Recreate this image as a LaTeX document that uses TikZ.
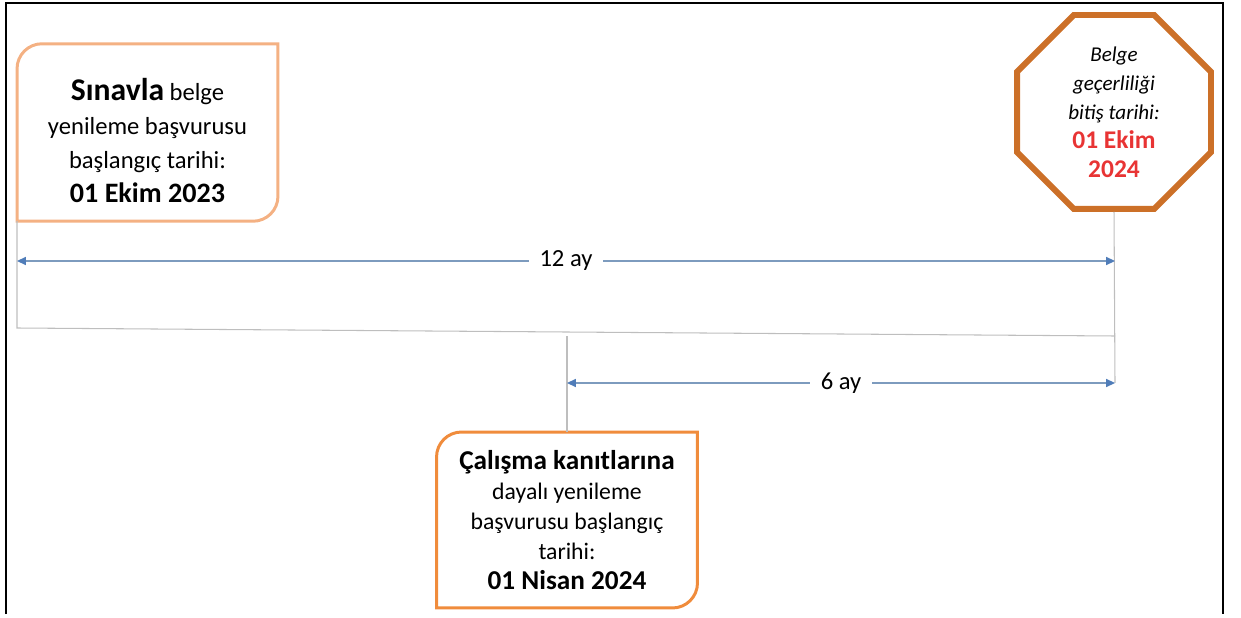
\documentclass[tikz,border=0pt]{standalone}
\usepackage{fontspec}
\setmainfont{Carlito}
\usetikzlibrary{arrows.meta,shapes.geometric,positioning}
\definecolor{mypeach}{RGB}{244,177,131}
\definecolor{myorange}{RGB}{240,140,60}
\definecolor{mybrown}{RGB}{204,112,40}
\definecolor{myblue}{RGB}{80,125,185}
\definecolor{myline}{RGB}{125,155,190}
\definecolor{myred}{RGB}{232,52,52}
\definecolor{mygray}{RGB}{190,190,190}

\begin{document}
\begin{tikzpicture}[x=0.02cm,y=-0.02cm,
    every node/.style={font=\fontsize{14}{19.5}\selectfont},
    datebox/.style={minimum width=5.22cm,minimum height=3.55cm,align=center,
                    inner sep=0pt,outer sep=0pt},
    spanline/.style={myline,line width=0.9pt,
                     {Triangle[length=5pt,width=4.5pt,color=myblue]}-{Triangle[length=5pt,width=4.5pt,color=myblue]}},
    spanlabel/.style={fill=white,text=black,inner xsep=6pt,inner ysep=1pt},
    guide/.style={mygray,line width=0.6pt}]
  \useasboundingbox (0,0) rectangle (1241,618);
  \draw[line width=1.2pt] (6,614) -- (6,3) -- (1223,3) -- (1223,614);

  % the three dates
  \node[datebox] (exam) at (147.5,132.5) {};
  \node[align=center] (examtext) at ([yshift=-0.16cm]exam.center)
    {{\bfseries\fontsize{18}{22}\selectfont Sınavla} belge\\
     yenileme başvurusu\\ başlangıç tarihi:\\
     {\bfseries\fontsize{16}{20}\selectfont 01 Ekim 2023}};
  \node[regular polygon,regular polygon sides=8,minimum size=4.2cm,draw=mybrown,
        line width=3.4pt,align=center,inner sep=0pt,
        font=\fontsize{12}{16.5}\selectfont\itshape] (expiry) at (1114,112)
    {Belge\\ geçerliliği\\ bitiş tarihi:\\
     {\upshape\bfseries\color{myred}\fontsize{14.5}{16.5}\selectfont 01 Ekim}\\
     {\upshape\bfseries\color{myred}\fontsize{14.5}{16.5}\selectfont 2024}};
  \node[datebox,minimum height=3.52cm,font=\fontsize{13.5}{17}\selectfont] (work) at (567,520)
    {{\bfseries\fontsize{15.5}{19}\selectfont Çalışma kanıtlarına}\\
     dayalı yenileme\\ başvurusu başlangıç\\ tarihi:\\
     {\bfseries\fontsize{15.5}{19}\selectfont 01 Nisan 2024}};

  % box outlines, rounded on two corners
  \draw[mypeach,line width=1.7pt] ([yshift=-0.5cm]exam.north west)
    arc[start angle=180,end angle=90,radius=0.5cm] -- (exam.north east)
    -- ([yshift=0.5cm]exam.south east)
    arc[start angle=0,end angle=-90,radius=0.5cm] -- (exam.south west) -- cycle;
  \draw[myorange,line width=1.7pt] ([yshift=-0.5cm]work.north west)
    arc[start angle=180,end angle=90,radius=0.5cm] -- (work.north east)
    -- ([yshift=0.5cm]work.south east)
    arc[start angle=0,end angle=-90,radius=0.5cm] -- (work.south west) -- cycle;

  % guide lines
  \coordinate (lbend) at (17,328);
  \coordinate (rbend) at (1115,336);
  \coordinate (mbend) at (567,336);
  \coordinate (yearL) at (17,261);
  \coordinate (yearR) at (1115,261);
  \coordinate (halfL) at (567,383);
  \coordinate (halfR) at (1115,383);
  \draw[guide] (exam.south west) -- (lbend) -- (rbend);
  \draw[guide] (expiry.south) -- (halfR);
  \draw[guide] (mbend) -- (work.north);

  % spans
  \draw[spanline] (yearL) -- node[spanlabel] (year) {12 ay} (yearR);
  \draw[spanline] (halfL) -- node[spanlabel] (half) {6 ay} (halfR);
\end{tikzpicture}
\end{document}
